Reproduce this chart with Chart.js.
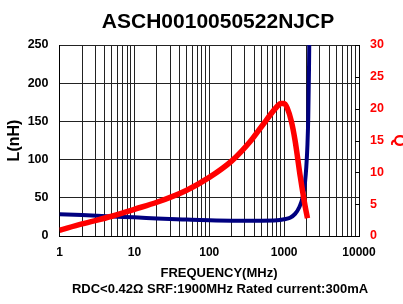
<!DOCTYPE html>
<html>
<head>
<meta charset="utf-8">
<script src="https://cdn.jsdelivr.net/npm/chart.js@4/dist/chart.umd.min.js"></script>
<style>
  html, body { margin: 0; padding: 0; background: #fff; }
  #wrap { width: 403px; height: 304px; }
</style>
</head>
<body>
<div id="wrap"><canvas id="chart" width="403" height="304"></canvas></div>
<script>
const chartTitle = "ASCH0010050522NJCP";
const xTitle = "FREQUENCY(MHz)";
const noteText = "RDC<0.42Ω SRF:1900MHz Rated current:300mA";

// inductance (nH) vs frequency (MHz)
const freqL = [1, 2, 5, 10, 20, 50, 100, 200, 500, 800, 1000, 1200, 1400, 1600, 1774, 1900, 1977, 2050, 2100, 2150, 2190];
const valL = [28.5, 27.5, 25.5, 24.5, 23, 21.5, 20.5, 20, 20, 20.5, 22, 24, 29, 38, 51, 70, 90, 120, 155, 220, 300];

// Q vs frequency (MHz)
const freqQ = [1, 2, 5, 10, 20, 50, 100, 200, 350, 500, 800, 900, 1000, 1100, 1250, 1400, 1650, 1900, 2050];
const valQ = [0.9, 1.9, 3.1, 4.2, 5.3, 7.2, 9.2, 11.8, 14.8, 17.2, 20.3, 20.8, 20.8, 20.1, 18, 15, 9.2, 4.8, 2.8];

const xGridTicks = [1, 2, 3, 4, 5, 6, 7, 8, 9, 10, 20, 30, 40, 50, 60, 70, 80, 90,
  100, 200, 300, 400, 500, 600, 700, 800, 900, 1000, 2000, 3000, 4000, 5000, 6000, 7000, 8000, 9000, 10000];
const xLabels = [1, 10, 100, 1000, 10000];

const fontFamily = '"Liberation Sans", Arial, sans-serif';

const extraText = {
  id: 'extraText',
  afterDraw(chart) {
    const ctx = chart.ctx;
    const area = chart.chartArea;
    const q = chart.scales.yQ;
    ctx.save();
    // small inside tick marks on the Q axis
    ctx.strokeStyle = '#000';
    ctx.lineWidth = 1;
    q.ticks.forEach(t => {
      const y = Math.round(q.getPixelForValue(t.value)) + 0.5;
      ctx.beginPath();
      ctx.moveTo(area.right - 4, y);
      ctx.lineTo(area.right, y);
      ctx.stroke();
    });
    ctx.fillStyle = '#000';
    ctx.textAlign = 'center';
    ctx.textBaseline = 'middle';
    ctx.font = 'bold 21px ' + fontFamily;
    ctx.fillText(chartTitle, 218, 22);
    ctx.font = 'bold 13px ' + fontFamily;
    ctx.fillText(xTitle, 219, 273);
    ctx.fillText(noteText, 220, 289);
    ctx.restore();
  }
};

new Chart(document.getElementById('chart'), {
  type: 'line',
  data: {
    datasets: [
      {
        label: 'Q',
        data: freqQ.map((f, i) => ({ x: f, y: valQ[i] })),
        yAxisID: 'yQ',
        borderColor: '#ff0000',
        borderWidth: 5.5,
        pointRadius: 0,
        cubicInterpolationMode: 'monotone',
        borderJoinStyle: 'round'
      },
      {
        label: 'L',
        data: freqL.map((f, i) => ({ x: f, y: valL[i] })),
        yAxisID: 'y',
        borderColor: '#000080',
        borderWidth: 4,
        pointRadius: 0,
        cubicInterpolationMode: 'monotone',
        borderJoinStyle: 'round'
      }
    ]
  },
  options: {
    responsive: false,
    animation: false,
    layout: { padding: { top: 45, left: 0, right: 0, bottom: 0 } },
    plugins: {
      legend: { display: false },
      tooltip: { enabled: false }
    },
    scales: {
      x: {
        type: 'logarithmic',
        min: 1,
        max: 10000,
        afterBuildTicks: scale => {
          scale.ticks = xGridTicks.map(v => ({ value: v }));
        },
        afterFit: scale => { scale.height = 68; },
        grid: { color: '#222', lineWidth: 1, drawTicks: false },
        border: { color: '#000' },
        ticks: {
          autoSkip: false,
          maxRotation: 0,
          padding: 9,
          color: '#000',
          font: { family: fontFamily, size: 12, weight: 'bold' },
          callback: v => xLabels.includes(v) ? String(v) : ''
        }
      },
      y: {
        position: 'left',
        min: 0,
        max: 250,
        afterFit: scale => { scale.width = 59.5; },
        grid: { color: '#222', lineWidth: 1, drawTicks: false },
        border: { color: '#000' },
        ticks: {
          stepSize: 50,
          padding: 11,
          color: '#000',
          font: { family: fontFamily, size: 12.5, weight: 'bold' }
        },
        title: {
          display: true,
          text: 'L(nH)',
          color: '#000',
          padding: { top: 5, bottom: 0 },
          font: { family: fontFamily, size: 16, weight: 'bold' }
        }
      },
      yQ: {
        position: 'right',
        min: 0,
        max: 30,
        afterFit: scale => { scale.width = 44; },
        grid: { drawOnChartArea: false, drawTicks: false },
        border: { color: '#000' },
        ticks: {
          stepSize: 5,
          padding: 11,
          color: '#ff0000',
          font: { family: fontFamily, size: 12.5, weight: 'bold' }
        },
        title: {
          display: true,
          text: 'Q',
          color: '#ff0000',
          padding: { top: 0, bottom: 0 },
          font: { family: fontFamily, size: 16, weight: 'bold', lineHeight: 0.6 }
        }
      }
    }
  },
  plugins: [extraText]
});
</script>
</body>
</html>
